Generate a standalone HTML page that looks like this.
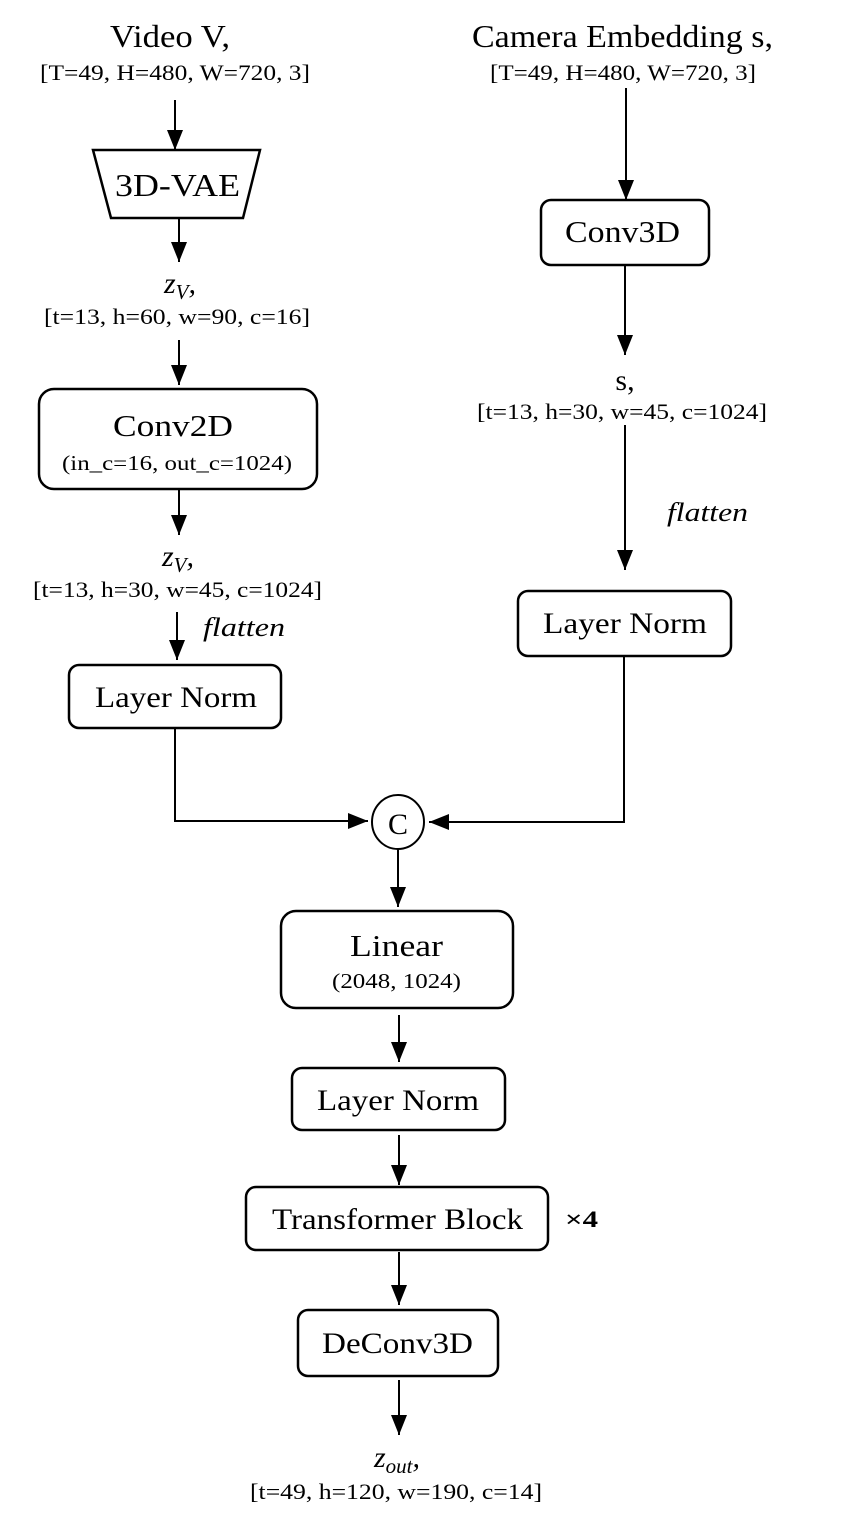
<!DOCTYPE html>
<html><head><meta charset="utf-8"><style>
html,body{margin:0;padding:0;background:#fff}
svg{display:block}
text{font-family:"Liberation Serif",serif;fill:#000}
</style></head><body>
<svg width="847" height="1517" viewBox="0 0 847 1517" xmlns="http://www.w3.org/2000/svg">
<defs>
<marker id="b" viewBox="0 0 20 16" markerWidth="20" markerHeight="16" refX="20" refY="8" orient="auto" markerUnits="userSpaceOnUse"><path d="M0,0 L20,8 L0,16 z" fill="#000"/></marker></defs>
<g stroke="#000" stroke-width="2" fill="none">
<line x1="175" y1="100" x2="175" y2="150" marker-end="url(#b)"/>
<polygon points="93,150 260,150 243,218 111,218" stroke-width="2.5"/>
<line x1="179" y1="218" x2="179" y2="262" marker-end="url(#b)"/>
<line x1="179" y1="340" x2="179" y2="385" marker-end="url(#b)"/>
<rect x="39" y="389" width="278" height="100" rx="15" stroke-width="2.5"/>
<line x1="179" y1="489" x2="179" y2="535" marker-end="url(#b)"/>
<line x1="177" y1="612" x2="177" y2="660" marker-end="url(#b)"/>
<rect x="69" y="665" width="212" height="63" rx="10" stroke-width="2.5"/>
<polyline points="175,728 175,821 368,821" marker-end="url(#b)"/>
<ellipse cx="398" cy="822" rx="26" ry="27"/>
<line x1="626" y1="88" x2="626" y2="200" marker-end="url(#b)"/>
<rect x="541" y="200" width="168" height="65" rx="10" stroke-width="2.5"/>
<line x1="625" y1="265" x2="625" y2="355" marker-end="url(#b)"/>
<line x1="625" y1="425" x2="625" y2="570" marker-end="url(#b)"/>
<rect x="518" y="591" width="213" height="65" rx="10" stroke-width="2.5"/>
<polyline points="624,656 624,822 429,822" marker-end="url(#b)"/>
<line x1="398" y1="849" x2="398" y2="907" marker-end="url(#b)"/>
<rect x="281" y="911" width="232" height="97" rx="15" stroke-width="2.5"/>
<line x1="399" y1="1015" x2="399" y2="1062" marker-end="url(#b)"/>
<rect x="292" y="1068" width="213" height="62" rx="10" stroke-width="2.5"/>
<line x1="399" y1="1135" x2="399" y2="1185" marker-end="url(#b)"/>
<rect x="246" y="1187" width="302" height="63" rx="10" stroke-width="2.5"/>
<line x1="399" y1="1252" x2="399" y2="1305" marker-end="url(#b)"/>
<rect x="298" y="1310" width="200" height="66" rx="10" stroke-width="2.5"/>
<line x1="399" y1="1380" x2="399" y2="1435" marker-end="url(#b)"/>
</g>
<g lengthAdjust="spacingAndGlyphs">
<text x="110" y="47" font-size="32" textLength="120" lengthAdjust="spacingAndGlyphs">Video V,</text>
<text x="40" y="80" font-size="22" textLength="270" lengthAdjust="spacingAndGlyphs">[T=49, H=480, W=720, 3]</text>
<text x="115" y="196" font-size="32" textLength="125" lengthAdjust="spacingAndGlyphs">3D-VAE</text>
<text x="180" y="293" font-size="30" font-style="italic" text-anchor="middle">z<tspan font-size="21" dy="6">V</tspan><tspan dy="-6">,</tspan></text>
<text x="44" y="324" font-size="22" textLength="266" lengthAdjust="spacingAndGlyphs">[t=13, h=60, w=90, c=16]</text>
<text x="113" y="436" font-size="31" textLength="120" lengthAdjust="spacingAndGlyphs">Conv2D</text>
<text x="62" y="470" font-size="21" textLength="230" lengthAdjust="spacingAndGlyphs">(in_c=16, out_c=1024)</text>
<text x="178" y="566" font-size="30" font-style="italic" text-anchor="middle">z<tspan font-size="21" dy="6">V</tspan><tspan dy="-6">,</tspan></text>
<text x="33" y="597" font-size="22" textLength="289" lengthAdjust="spacingAndGlyphs">[t=13, h=30, w=45, c=1024]</text>
<text x="95" y="707" font-size="30" textLength="162" lengthAdjust="spacingAndGlyphs">Layer Norm</text>
<text x="472" y="47" font-size="32" textLength="301" lengthAdjust="spacingAndGlyphs">Camera Embedding s,</text>
<text x="490" y="80" font-size="22" textLength="266" lengthAdjust="spacingAndGlyphs">[T=49, H=480, W=720, 3]</text>
<text x="565" y="242" font-size="31" textLength="115" lengthAdjust="spacingAndGlyphs">Conv3D</text>
<text x="625" y="390" font-size="30" text-anchor="middle">s,</text>
<text x="477" y="419" font-size="22" textLength="290" lengthAdjust="spacingAndGlyphs">[t=13, h=30, w=45, c=1024]</text>
<text x="543" y="633" font-size="30" textLength="164" lengthAdjust="spacingAndGlyphs">Layer Norm</text>
<text x="398" y="834" font-size="30" text-anchor="middle">C</text>
<text x="350" y="956" font-size="31" textLength="93" lengthAdjust="spacingAndGlyphs">Linear</text>
<text x="332" y="988" font-size="21" textLength="129" lengthAdjust="spacingAndGlyphs">(2048, 1024)</text>
<text x="317" y="1110" font-size="30" textLength="162" lengthAdjust="spacingAndGlyphs">Layer Norm</text>
<text x="272" y="1229" font-size="30" textLength="251" lengthAdjust="spacingAndGlyphs">Transformer Block</text>
<text x="322" y="1353" font-size="30" textLength="151" lengthAdjust="spacingAndGlyphs">DeConv3D</text>
<text x="397" y="1467" font-size="30" font-style="italic" text-anchor="middle">z<tspan font-size="21" dy="6">out</tspan><tspan dy="-6">,</tspan></text>
<text x="250" y="1499" font-size="22" textLength="292" lengthAdjust="spacingAndGlyphs">[t=49, h=120, w=190, c=14]</text>
<text x="203" y="636" font-size="26" font-style="italic" textLength="82" lengthAdjust="spacingAndGlyphs">flatten</text>
<text x="667" y="521" font-size="26" font-style="italic" textLength="81" lengthAdjust="spacingAndGlyphs">flatten</text>
<text x="565" y="1227" font-size="23" font-weight="bold" textLength="33" lengthAdjust="spacingAndGlyphs">×4</text>
</g>
</svg>
</body></html>
